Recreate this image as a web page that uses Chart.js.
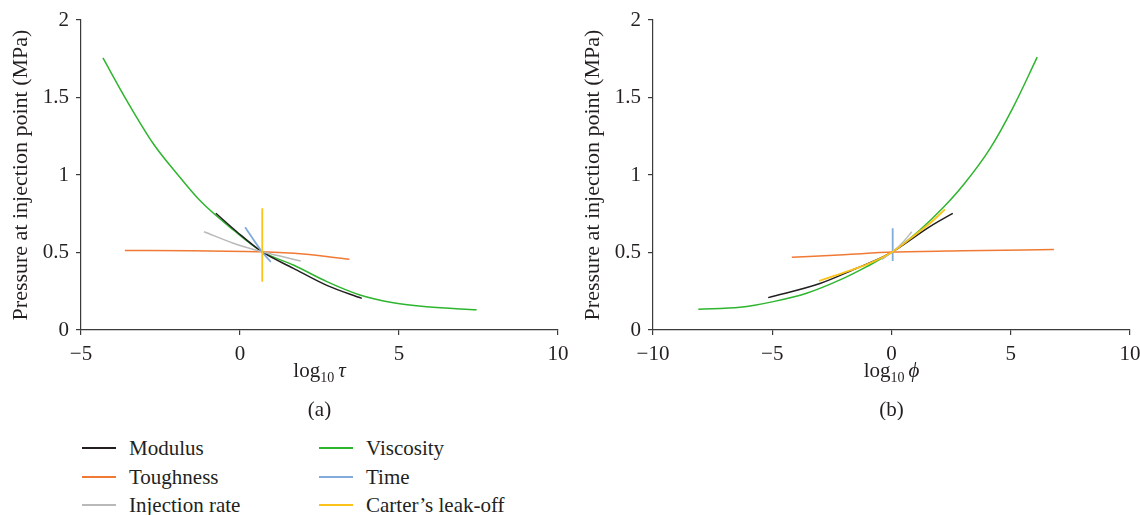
<!DOCTYPE html>
<html>
<head>
<meta charset="utf-8">
<script src="https://cdn.jsdelivr.net/npm/chart.js@4.4.1/dist/chart.umd.min.js"></script>
<style>
  html, body { margin: 0; padding: 0; background: #fff; overflow: hidden; }
  body { width: 1140px; height: 515px; position: relative; font-family: "Liberation Serif", "Times New Roman", serif; color: #231f20; }
  canvas { position: absolute; top: 0; }
  #chartA { left: 0; }
  #chartB { left: 572px; }
  .item { position: absolute; font-size: 21px; line-height: 24px; white-space: nowrap; }
  .item .swatch { position: absolute; left: 0; top: 11px; width: 34px; height: 2px; }
  .item .label { position: absolute; left: 47px; top: 0; }
</style>
</head>
<body>
<canvas id="chartA" width="568" height="420"></canvas>
<canvas id="chartB" width="568" height="420"></canvas>
<div id="legend"></div>
<script>
// series names and colours
const seriesNames = ['Modulus', 'Toughness', 'Injection rate', 'Viscosity', 'Time', "Carter\u2019s leak-off"];
const seriesColors = ['#231f20', '#f07a35', '#b9b9b9', '#2eb52e', '#82abdb', '#fbc31a'];

// (a) pressure vs log10 tau : [x, MPa]
const tauModulus   = [[-0.76, 0.753], [-0.10, 0.634], [0.69, 0.505], [1.68, 0.398], [2.73, 0.288], [3.83, 0.204]];
const tauToughness = [[-3.62, 0.513], [-1.5, 0.511], [0.69, 0.505], [1.99, 0.49], [3.44, 0.456]];
const tauInjection = [[-1.13, 0.634], [-0.21, 0.56], [0.69, 0.505], [1.26, 0.477], [1.91, 0.445]];
const tauViscosity = [[-4.31, 1.755], [-3.56, 1.48], [-2.72, 1.20], [-1.99, 1.01], [-1.26, 0.835], [-0.21, 0.645],
                      [0.69, 0.505], [1.68, 0.419], [2.73, 0.312], [3.77, 0.226], [4.82, 0.176], [5.87, 0.150], [7.44, 0.13]];
const tauTime      = [[0.16, 0.663], [0.69, 0.505], [0.97, 0.44]];
const tauCarter    = [[0.70, 0.785], [0.70, 0.312]];

// (b) pressure vs log10 phi : [x, MPa]
const phiModulus   = [[-5.17, 0.209], [-3.0, 0.30], [-1.46, 0.398], [-0.34, 0.473], [0.05, 0.505], [1.61, 0.667], [2.57, 0.753]];
const phiToughness = [[-4.18, 0.469], [-2, 0.486], [0.05, 0.503], [3, 0.512], [6.81, 0.519]];
const phiInjection = [[-0.4, 0.455], [0.05, 0.505], [0.5, 0.57], [0.85, 0.634]];
const phiViscosity = [[-8.1, 0.134], [-6.35, 0.146], [-4.96, 0.183], [-3.56, 0.237], [-2.16, 0.323], [-1.04, 0.409], [0.05, 0.505],
                      [1.19, 0.645], [2.17, 0.79], [3.01, 0.935], [4.13, 1.17], [5.11, 1.44], [6.11, 1.76]];
const phiTime      = [[0.05, 0.656], [0.05, 0.445]];
const phiCarter    = [[-3.04, 0.316], [-1.88, 0.376], [-1, 0.425], [0.05, 0.505], [1, 0.615], [1.7, 0.70], [2.24, 0.778]];

const yTicks = [0, 0.5, 1, 1.5, 2];

const FONT = '"Liberation Serif", "Times New Roman", serif';
const INK = '#231f20';

// x title with a real subscript, plus the panel letter under it
const axisCaption = {
    id: 'axisCaption',
    afterDraw(chart, args, opts) {
        const { ctx, chartArea } = chart;
        const cx = (chartArea.left + chartArea.right) / 2;
        ctx.save();
        ctx.fillStyle = INK;
        ctx.textBaseline = 'alphabetic';
        ctx.textAlign = 'left';
        ctx.font = `21px ${FONT}`;
        const wLog = ctx.measureText('log').width;
        ctx.font = `14px ${FONT}`;
        const wSub = ctx.measureText('10').width;
        ctx.font = `italic 21px ${FONT}`;
        const wSym = ctx.measureText(opts.symbol).width;
        const gap = 4;
        let x = cx - (wLog + wSub + gap + wSym) / 2;
        ctx.font = `21px ${FONT}`;
        ctx.fillText('log', x, 377);
        x += wLog;
        ctx.font = `14px ${FONT}`;
        ctx.fillText('10', x, 382);
        x += wSub + gap;
        ctx.font = `italic 21px ${FONT}`;
        ctx.fillText(opts.symbol, x, 377);
        ctx.font = `21px ${FONT}`;
        ctx.textAlign = 'center';
        ctx.fillText(opts.panel, cx, 416);
        ctx.restore();
    }
};

function toPoints(pairs) {
    return pairs.map(p => ({ x: p[0], y: p[1] }));
}

function makeDatasets(series) {
    // draw order: first dataset ends up on top
    const order = [5, 4, 2, 1, 0, 3];
    return order.map(i => ({
        label: seriesNames[i],
        data: toPoints(series[i]),
        borderColor: seriesColors[i],
        borderWidth: i === 5 || i === 4 ? 1.8 : 1.5,
        showLine: true,
        pointRadius: 0,
        cubicInterpolationMode: series[i].length > 2 ? 'monotone' : 'default',
        tension: 0
    }));
}

function makeChart(id, series, xMin, symbol, panel) {
    return new Chart(document.getElementById(id), {
        type: 'scatter',
        data: { datasets: makeDatasets(series) },
        options: {
            responsive: false,
            animation: false,
            devicePixelRatio: 1,
            layout: { padding: { top: 20, right: 10, left: 0, bottom: 0 } },
            plugins: {
                legend: { display: false },
                tooltip: { enabled: false },
                axisCaption: { symbol, panel }
            },
            scales: {
                x: {
                    type: 'linear',
                    min: xMin,
                    max: 10,
                    afterFit(scale) {
                        scale.height = 90;
                        scale.paddingLeft = 0;
                        scale.paddingRight = 0;
                    },
                    ticks: {
                        stepSize: 5,
                        padding: 7,
                        color: INK,
                        font: { family: FONT, size: 21 },
                        callback: v => String(v).replace('-', '\u2212')
                    },
                    grid: { drawOnChartArea: false, tickLength: 5, color: '#3a3a3a', lineWidth: 1.2 },
                    border: { color: '#3a3a3a', width: 1.2 }
                },
                y: {
                    type: 'linear',
                    min: 0,
                    max: 2,
                    afterFit(scale) { scale.width = 81; },
                    afterBuildTicks(scale) { scale.ticks = yTicks.map(v => ({ value: v })); },
                    ticks: {
                        padding: 7,
                        color: INK,
                        font: { family: FONT, size: 21 },
                        callback: v => String(v)
                    },
                    grid: { drawOnChartArea: false, tickLength: 5, color: '#3a3a3a', lineWidth: 1.2 },
                    border: { color: '#3a3a3a', width: 1.2 },
                    title: {
                        display: true,
                        text: 'Pressure at injection point (MPa)',
                        color: INK,
                        font: { family: FONT, size: 22 },
                        padding: { top: 8, bottom: 0 }
                    }
                }
            }
        },
        plugins: [axisCaption]
    });
}

makeChart('chartA', [tauModulus, tauToughness, tauInjection, tauViscosity, tauTime, tauCarter], -5, '\u03c4', '(a)');
makeChart('chartB', [phiModulus, phiToughness, phiInjection, phiViscosity, phiTime, phiCarter], -10, '\u03d5', '(b)');

// legend, two columns under panel (a)
const legendCols = [82, 319];
const legendRows = [448, 477, 505];
const legend = document.getElementById('legend');
seriesNames.forEach((name, i) => {
    const col = Math.floor(i / 3), row = i % 3;
    const div = document.createElement('div');
    div.className = 'item';
    div.style.left = legendCols[col] + 'px';
    div.style.top = (legendRows[row] - 12) + 'px';
    const sw = document.createElement('span');
    sw.className = 'swatch';
    sw.style.background = seriesColors[i];
    const lb = document.createElement('span');
    lb.className = 'label';
    lb.textContent = name;
    div.appendChild(sw);
    div.appendChild(lb);
    legend.appendChild(div);
});
</script>
</body>
</html>
